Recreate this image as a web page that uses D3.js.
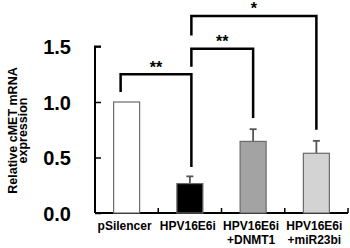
<!DOCTYPE html>
<html><head><meta charset="utf-8">
<script src="https://cdn.jsdelivr.net/npm/d3@7"></script>
<style>body{margin:0;background:#fff}svg{display:block}text{font-family:"Liberation Sans",Arial,sans-serif;font-weight:bold}</style>
</head><body><svg id="c" width="350" height="248"></svg>
<script>
const categories = ["pSilencer", "HPV16E6i", "HPV16E6i\n+DNMT1", "HPV16E6i\n+miR23bi"];
const values = [1.0, 0.265, 0.645, 0.538];
const errors = [0, 0.065, 0.11, 0.112];
const fills = ["#ffffff", "#000000", "#a3a3a3", "#d3d3d3"];
const yTicks = [0.0, 0.5, 1.0, 1.5];
const yTitle = ["Relative cMET mRNA", "expression"];
// significance brackets: from/to index, label, bracket level, left/right leg bottoms (in data units)
const sigs = [
  {a:0, b:1, label:"**", top:1.249, aEnd:1.09, bEnd:0.415},
  {a:1, b:2, label:"**", top:1.48, aEnd:1.318, bEnd:0.855},
  {a:1, b:3, label:"*", top:1.775, aEnd:1.60, bEnd:0.75}
];

const svg = d3.select("#c");
const x0 = 95, x1 = 348, yb = 213;
const x = d3.scaleBand().domain(categories).range([x0, x1]).paddingInner(0).paddingOuter(0);
const y = d3.scaleLinear().domain([0, 1.5]).range([yb, 46.5]);
const bw = 26;

// axes
const yAxis = svg.append("g").attr("transform", `translate(${x0},0)`)
  .call(d3.axisLeft(y).tickValues(yTicks).tickSize(-6).tickFormat(d3.format(".1f")).tickPadding(24));
yAxis.select(".domain").attr("stroke", "#000").attr("stroke-width", 2).attr("d", `M6,${y(1.5)}H0V${yb}`);
yAxis.selectAll(".tick line").attr("stroke", "#000").attr("stroke-width", 1.5);
yAxis.selectAll(".tick text").attr("font-size", 20).attr("fill", "#000").attr("dy", "0.36em");

const xAxis = svg.append("g").attr("transform", `translate(0,${yb})`)
  .call(d3.axisBottom(x).tickSize(0).tickFormat(""));
xAxis.select(".domain").attr("stroke", "#000").attr("stroke-width", 2).attr("d", `M${x0},0H${x1}`);
// boundary ticks pointing up
svg.selectAll(".bt").data(categories.slice(1).concat(["end"])).join("line")
  .attr("x1", (d,i) => x0 + x.bandwidth()*(i+1)).attr("x2", (d,i) => x0 + x.bandwidth()*(i+1))
  .attr("y1", yb).attr("y2", yb-5).attr("stroke", "#000").attr("stroke-width", 1.5);

// x labels
categories.forEach((c, i) => {
  const lines = c.split("\n");
  const t = svg.append("text").attr("text-anchor", "middle").attr("font-size", 12).attr("fill", "#000");
  lines.forEach((l, j) => t.append("tspan").attr("x", x(c) + x.bandwidth()/2 - 2).attr("y", 229.5 + j*14).text(l));
});

// y title
const yt = svg.append("text").attr("transform", "translate(17,130.5) rotate(-90)")
  .attr("text-anchor", "middle").attr("font-size", 12.5).attr("fill", "#000");
yTitle.forEach((l, j) => yt.append("tspan").attr("x", 0).attr("y", j*10).text(l));

// error bars
categories.forEach((c, i) => {
  if (!errors[i]) return;
  const cx = x(c) + x.bandwidth()/2;
  svg.append("line").attr("x1", cx).attr("x2", cx).attr("y1", y(values[i])).attr("y2", y(values[i]+errors[i]))
    .attr("stroke", "#555").attr("stroke-width", 1.8);
  svg.append("line").attr("x1", cx-3.5).attr("x2", cx+3.5).attr("y1", y(values[i]+errors[i])).attr("y2", y(values[i]+errors[i]))
    .attr("stroke", "#555").attr("stroke-width", 1.8);
});

// bars
svg.selectAll(".bar").data(values).join("rect")
  .attr("x", (d,i) => x(categories[i]) + x.bandwidth()/2 - bw/2)
  .attr("width", bw)
  .attr("y", d => y(d)).attr("height", d => yb - y(d))
  .attr("fill", (d,i) => fills[i]).attr("stroke", "#6a6a6a").attr("stroke-width", 1.2);

// brackets
sigs.forEach(s => {
  const xa = x(categories[s.a]) + x.bandwidth()/2 + (s.a === 0 ? -6 : 1.5);
  const xb = x(categories[s.b]) + x.bandwidth()/2 + (s.a === 0 ? 1.5 : 0);
  const yt2 = y(s.top);
  svg.append("path").attr("d", `M${xa},${y(s.aEnd)}V${yt2}H${xb}V${y(s.bEnd)}`)
    .attr("fill", "none").attr("stroke", "#000").attr("stroke-width", 2.5);
  svg.append("text").attr("x", (xa+xb)/2).attr("y", yt2 - 1.5).attr("text-anchor", "middle")
    .attr("font-size", 16).attr("fill", "#000").text(s.label);
});
</script></body></html>
